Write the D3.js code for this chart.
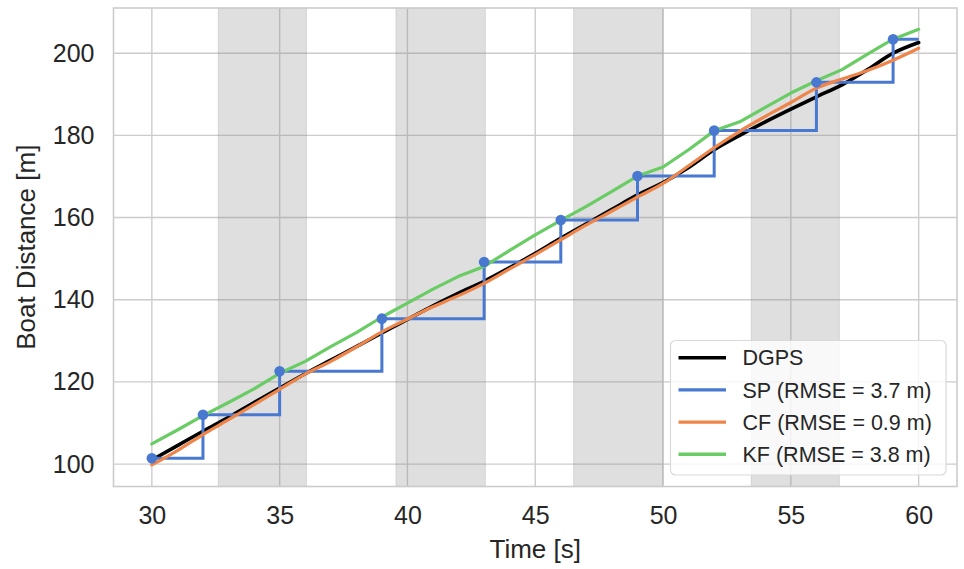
<!DOCTYPE html>
<html>
<head>
<meta charset="utf-8">
<script src="https://cdn.jsdelivr.net/npm/d3@7"></script>
<style>
  html, body { margin: 0; padding: 0; background: #ffffff; }
  svg { display: block; font-family: "Liberation Sans", Arial, sans-serif; }
</style>
</head>
<body>
<svg id="chart" width="964" height="569"></svg>
<script>
// ---------------- data ----------------
const times = [30,31,32,33,34,35,36,37,38,39,40,41,42,43,44,45,46,47,48,49,50,51,52,53,54,55,56,57,58,59,60];
const dgps  = [101.0,104.5,108.0,111.4,115.0,118.5,122.0,125.3,128.6,131.9,135.2,138.5,141.6,144.5,147.8,151.3,155.0,158.5,162.0,165.5,168.5,172.2,176.5,180.0,183.3,186.4,189.4,192.3,196.0,200.0,202.6];
const cf    = [99.8,103.3,107.2,110.8,114.5,118.2,121.9,125.0,128.5,132.2,135.3,138.3,141.0,144.0,147.5,151.0,154.6,158.2,161.6,165.0,168.3,172.6,177.0,181.0,184.6,188.0,191.5,193.7,195.8,198.3,201.2];
const kf    = [104.9,108.3,111.8,115.0,118.3,122.1,125.0,128.6,132.0,135.8,139.2,142.6,145.7,148.1,152.0,155.8,159.3,162.7,166.4,170.1,172.3,176.5,181.1,183.3,186.8,190.3,193.3,196.0,199.8,203.4,205.8];
const spTimes  = [30,32,35,39,43,46,49,52,56,59];
const spValues = [101.4,112.0,122.6,135.4,149.2,159.4,170.1,181.2,192.9,203.4];
const spEndTime = 60;
const shadeStarts = [32.6,39.55,46.5,53.45];
const shadeEnds   = [36.05,43.05,50.0,56.9];
const xTicks = [30,35,40,45,50,55,60];
const yTicks = [100,120,140,160,180,200];
const legendLabels = ["DGPS","SP (RMSE = 3.7 m)","CF (RMSE = 0.9 m)","KF (RMSE = 3.8 m)"];
const colors = ["#000000","#4878d0","#ee854a","#6acc64"];

// ---------------- layout ----------------
const svg = d3.select("#chart");
const L = 113.5, R = 957, T = 8, B = 486.5;
const x = d3.scaleLinear().domain([28.5, 61.5]).range([L, R]);
const y = d3.scaleLinear().domain([94.55, 211.0]).range([B, T]);

// grid
const g = svg.append("g");
g.selectAll(".vg").data(xTicks).enter().append("line")
  .attr("x1", d => x(d)).attr("x2", d => x(d)).attr("y1", T).attr("y2", B)
  .attr("stroke", "#cccccc").attr("stroke-width", 1.4);
g.selectAll(".hg").data(yTicks).enter().append("line")
  .attr("x1", L).attr("x2", R).attr("y1", d => y(d)).attr("y2", d => y(d))
  .attr("stroke", "#cccccc").attr("stroke-width", 1.4);

// shaded spans
g.selectAll(".span").data(shadeStarts).enter().append("rect")
  .attr("x", (d) => x(d)).attr("y", T)
  .attr("width", (d, i) => x(shadeEnds[i]) - x(d)).attr("height", B - T)
  .attr("fill", "#808080").attr("fill-opacity", 0.25)
  .attr("stroke", "#808080").attr("stroke-opacity", 0.18).attr("stroke-width", 1.2);

// frame
svg.append("rect").attr("x", L).attr("y", T).attr("width", R - L).attr("height", B - T)
  .attr("fill", "none").attr("stroke", "#cccccc").attr("stroke-width", 1.6);

// series lines
svg.append("clipPath").attr("id", "clip").append("rect")
  .attr("x", L).attr("y", T).attr("width", R - L).attr("height", B - T);
const plot = svg.append("g").attr("clip-path", "url(#clip)");
const lineGen = d3.line().x(d => x(d[0])).y(d => y(d[1]));

plot.append("path").datum(times.map((t, i) => [t, dgps[i]]))
  .attr("d", d3.line().x(d => x(d[0])).y(d => y(d[1])).curve(d3.curveMonotoneX))
  .attr("fill", "none").attr("stroke", colors[0])
  .attr("stroke-width", 3.6).attr("stroke-linejoin", "round").attr("stroke-linecap", "round");

const spPts = spTimes.map((t, i) => [t, spValues[i]]).concat([[spEndTime, spValues[spValues.length - 1]]]);
plot.append("path").datum(spPts)
  .attr("d", d3.line().x(d => x(d[0])).y(d => y(d[1])).curve(d3.curveStepAfter))
  .attr("fill", "none").attr("stroke", colors[1]).attr("stroke-width", 3)
  .attr("stroke-linejoin", "miter");

plot.append("path").datum(times.map((t, i) => [t, cf[i]]))
  .attr("d", d3.line().x(d => x(d[0])).y(d => y(d[1])).curve(d3.curveMonotoneX))
  .attr("fill", "none").attr("stroke", colors[2])
  .attr("stroke-width", 3.2).attr("stroke-linejoin", "round").attr("stroke-linecap", "round");

plot.append("path").datum(times.map((t, i) => [t, kf[i]]))
  .attr("d", lineGen).attr("fill", "none").attr("stroke", colors[3])
  .attr("stroke-width", 3.2).attr("stroke-linejoin", "round").attr("stroke-linecap", "round");

plot.selectAll(".dot").data(spTimes).enter().append("circle")
  .attr("cx", d => x(d)).attr("cy", (d, i) => y(spValues[i])).attr("r", 5.3)
  .attr("fill", colors[1]);

// axes (no domain, no tick marks)
const xAxis = svg.append("g").attr("transform", `translate(0,${B})`)
  .call(d3.axisBottom(x).tickValues(xTicks).tickSize(0).tickPadding(20).tickFormat(d3.format("d")));
xAxis.select(".domain").remove();
xAxis.selectAll("text").attr("font-size", 25).attr("fill", "#262626")
  .attr("font-family", "Liberation Sans, Arial, sans-serif");

const yAxis = svg.append("g").attr("transform", `translate(${L},0)`)
  .call(d3.axisLeft(y).tickValues(yTicks).tickSize(0).tickPadding(19).tickFormat(d3.format("d")));
yAxis.select(".domain").remove();
yAxis.selectAll("text").attr("font-size", 25).attr("fill", "#262626")
  .attr("font-family", "Liberation Sans, Arial, sans-serif");

// axis labels
svg.append("text").attr("x", (L + R) / 2).attr("y", 558)
  .attr("text-anchor", "middle").attr("font-size", 26).attr("fill", "#262626")
  .text("Time [s]");
svg.append("text").attr("transform", `translate(35,${(T + B) / 2}) rotate(-90)`)
  .attr("text-anchor", "middle").attr("font-size", 26).attr("fill", "#262626")
  .text("Boat Distance [m]");

// legend
const lg = svg.append("g");
lg.append("rect").attr("x", 670.5).attr("y", 340.5).attr("width", 275.5).attr("height", 134.5)
  .attr("rx", 5).attr("fill", "#ffffff").attr("fill-opacity", 0.8)
  .attr("stroke", "#d9d9d9").attr("stroke-width", 1.2);
legendLabels.forEach((lab, i) => {
  const cy = 357.7 + i * 32.2;
  lg.append("line").attr("x1", 678.5).attr("x2", 726).attr("y1", cy).attr("y2", cy)
    .attr("stroke", colors[i]).attr("stroke-width", 3.4);
  lg.append("text").attr("x", 742.5).attr("y", cy).attr("dy", "0.36em")
    .attr("font-size", 21.5).attr("fill", "#262626").text(lab);
});
</script>
</body>
</html>
